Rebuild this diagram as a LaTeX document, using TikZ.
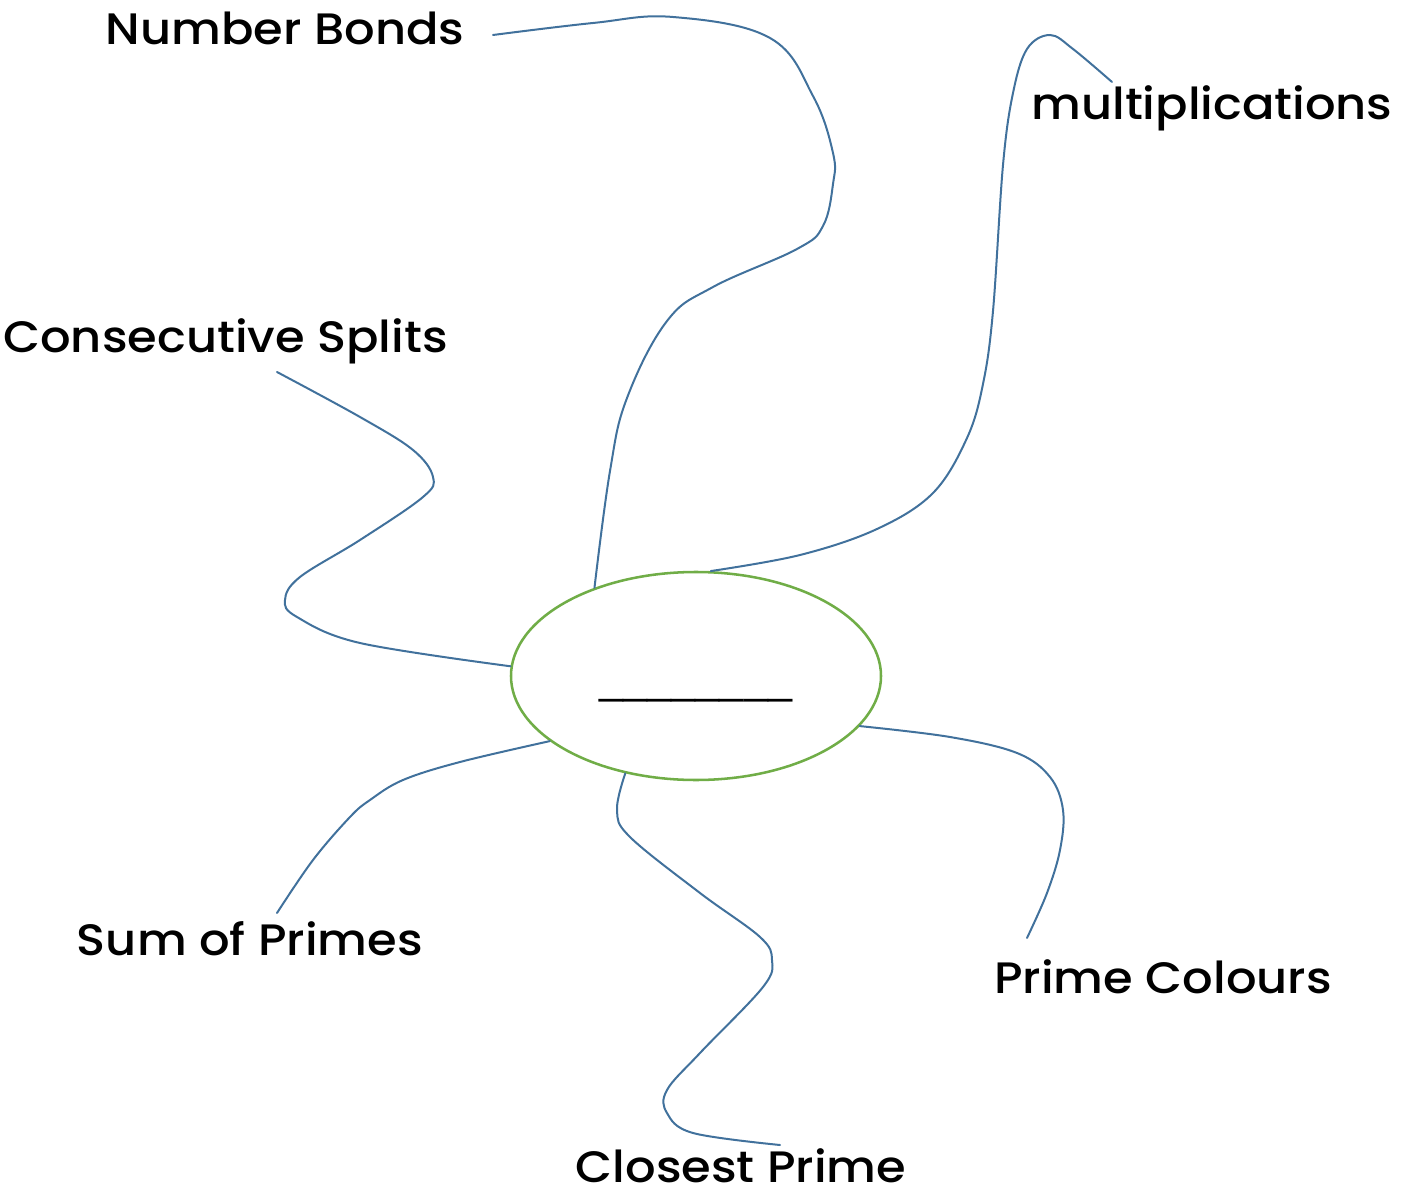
\documentclass[tikz,border=0pt]{standalone}
\usepackage{fontspec}
\setmainfont{Poppins}[UprightFont=* Medium, FakeStretch=1.09]
\newfontfamily\blankfont{Liberation Sans}
\usetikzlibrary{shapes.geometric}
\definecolor{linkblue}{RGB}{65,113,156}
\definecolor{hubgreen}{RGB}{112,173,71}
\begin{document}
\begin{tikzpicture}[x=0.75pt,y=-0.75pt,
  lbl/.style={font=\fontsize{33pt}{40pt}\selectfont, inner sep=0pt, anchor=base},
  link/.style={draw=linkblue, line width=1.5pt, line cap=round},
  hub/.style={ellipse, draw=hubgreen, line width=1.9pt, minimum width=277.5pt, minimum height=156pt, inner sep=0pt}]
\useasboundingbox (0,0) rectangle (1407,1191);

% centre
\node[hub] (c) at (696,676) {};
\node[inner sep=0pt, anchor=base, font=\blankfont\fontsize{32.4pt}{38pt}\selectfont] (blank) at (696,693) {\_\_\_\_\_\_\_\_};

% labels
\node[lbl] (nb) at (285,45) {Number Bonds};
\node[lbl] (mu) at (1212,120) {multiplications};
\node[lbl] (cs) at (225.5,353) {Consecutive Splits};
\node[lbl] (sp) at (250,955) {Sum of Primes};
\node[lbl] (cp) at (741,1182) {Closest Prime};
\node[lbl] (pc) at (1163,993) {Prime Colours};

% free ends of connectors
\coordinate (nbA) at (493,35);
\coordinate (muA) at (1112,82);
\coordinate (csA) at (277,372);
\coordinate (spA) at (277,913);
\coordinate (cpA) at (780,1145);
\coordinate (pcA) at (1027,938);

% connectors
\draw[link] plot[smooth, tension=0.65] coordinates {(nbA) (593,23) (673,17) (770,38) (813,96) (833,153) (833,184) (823,226) (797,249) (713,287) (667,321) (627,398) (610,471) (c.139.8)};
\draw[link] plot[smooth, tension=0.6] coordinates {(c.82.4) (800,555) (877,529) (933,493) (967,438) (983,384) (993,311) (1003,165) (1013,93) (1027,49) (1050,35) (1073,49) (muA)};
\draw[link] plot[smooth, tension=0.6] coordinates {(csA) (360,417) (413,450) (433,477) (423,497) (360,540) (300,577) (285,600) (297,617) (360,643) (c.177)};
\draw[link] plot[smooth, tension=0.6] coordinates {(c.204.9) (460,762) (403,780) (370,800) (350,817) (313,860) (spA)};
\draw[link] plot[smooth, tension=0.6] coordinates {(c.234.5) (617,810) (630,837) (700,893) (760,937) (772,960) (763,987) (700,1053) (667,1090) (667,1113) (693,1133) (cpA)};
\draw[link] plot[smooth, tension=0.6] coordinates {(c.343.8) (950,737) (1017,753) (1050,777) (1063,810) (1060,850) (1047,893) (pcA)};
\end{tikzpicture}
\end{document}
